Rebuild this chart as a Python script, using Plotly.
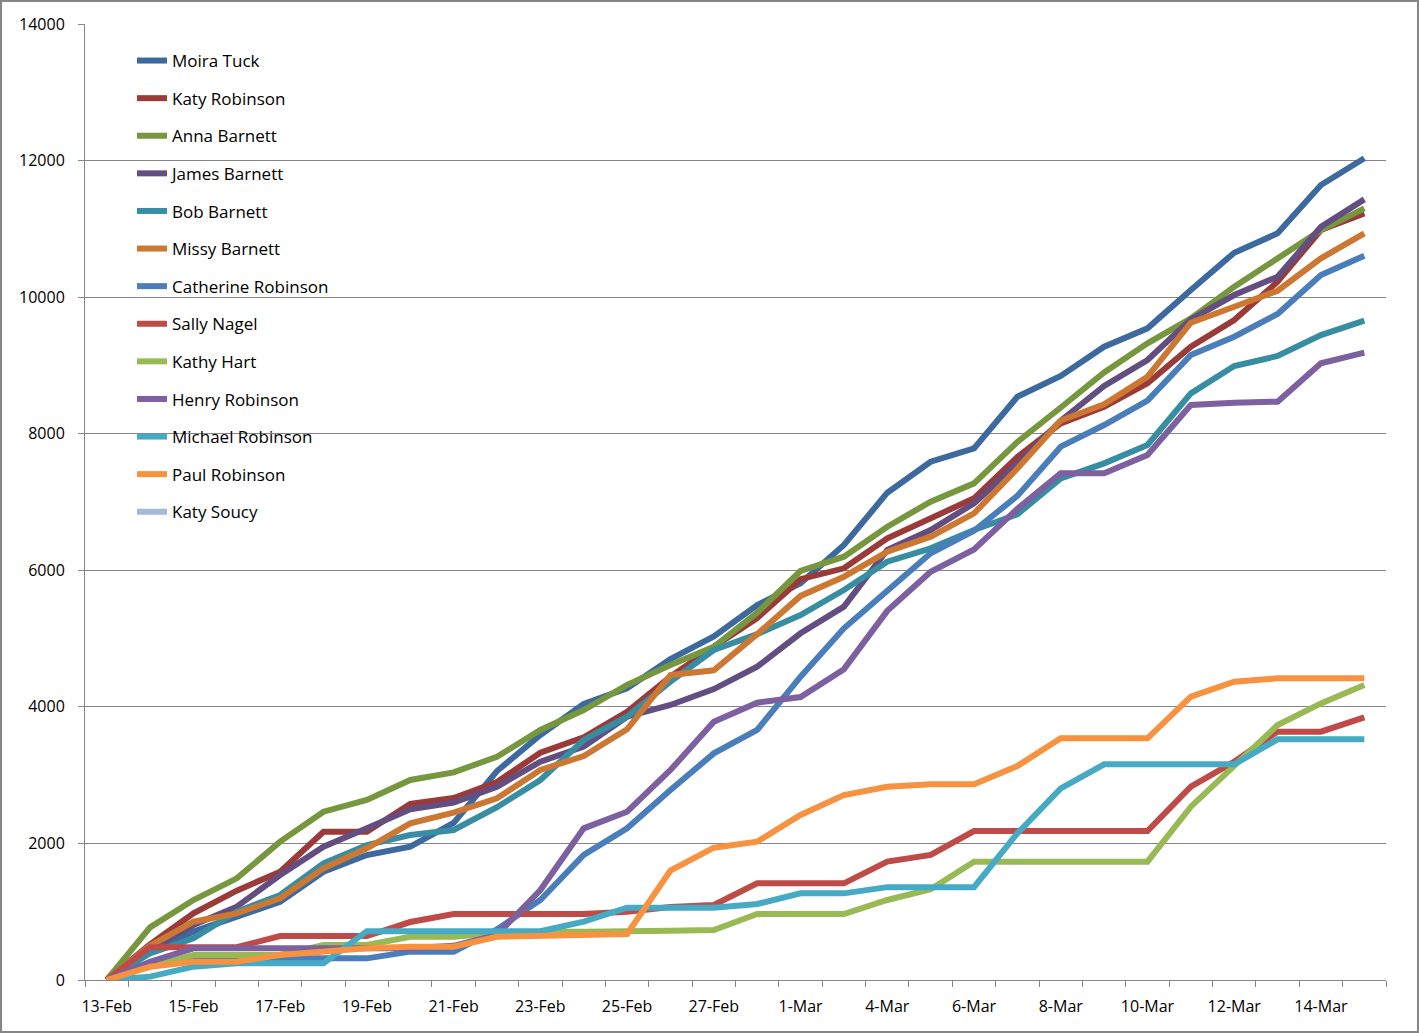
import plotly.graph_objects as go

dates = ["13-Feb", "14-Feb", "15-Feb", "16-Feb", "17-Feb", "18-Feb", "19-Feb", "20-Feb",
         "21-Feb", "22-Feb", "23-Feb", "24-Feb", "25-Feb", "26-Feb", "27-Feb", "28-Feb",
         "1-Mar", "3-Mar", "4-Mar", "5-Mar", "6-Mar", "7-Mar", "8-Mar", "9-Mar",
         "10-Mar", "11-Mar", "12-Mar", "13-Mar", "14-Mar", "15-Mar"]

moira_tuck = [0, 420, 708, 927, 1147, 1586, 1830, 1953, 2300, 3060, 3588, 4042, 4271, 4700, 5030,
              5491, 5809, 6370, 7136, 7590, 7786, 8542, 8845, 9274, 9543, 10104, 10651, 10934, 11642, 12033]
katy_robinson = [0, 520, 976, 1308, 1586, 2172, 2172, 2580, 2665, 2900, 3329, 3554, 3929, 4442, 4881,
                 5300, 5870, 6029, 6468, 6761, 7054, 7660, 8152, 8396, 8738, 9274, 9665, 10226, 10983, 11227]
anna_barnett = [0, 771, 1171, 1489, 2026, 2465, 2636, 2929, 3040, 3270, 3661, 3954, 4320, 4613, 4880,
                5380, 5990, 6199, 6638, 7005, 7273, 7880, 8384, 8896, 9323, 9689, 10153, 10568, 10983, 11300]
james_barnett = [0, 450, 805, 1074, 1538, 1953, 2221, 2500, 2600, 2830, 3197, 3417, 3856, 4027, 4260,
                 4588, 5077, 5467, 6297, 6590, 6981, 7560, 8190, 8700, 9079, 9675, 10031, 10299, 11031, 11432]
bob_barnett = [0, 391, 610, 1001, 1245, 1709, 1977, 2123, 2197, 2530, 2929, 3515, 3856, 4369, 4832,
               5065, 5345, 5711, 6126, 6321, 6590, 6820, 7346, 7566, 7835, 8591, 8991, 9138, 9445, 9655]
missy_barnett = [0, 500, 854, 976, 1196, 1636, 1928, 2294, 2450, 2660, 3075, 3280, 3671, 4466, 4535,
                 5065, 5625, 5906, 6272, 6492, 6834, 7490, 8193, 8430, 8835, 9626, 9860, 10094, 10568, 10934]
catherine_robinson = [0, 250, 300, 317, 317, 317, 317, 415, 415, 740, 1172, 1831, 2221, 2782, 3319,
                      3661, 4442, 5150, 5711, 6248, 6578, 7090, 7810, 8127, 8484, 9153, 9421, 9753, 10324, 10607]
sally_nagel = [0, 480, 480, 480, 644, 644, 644, 849, 966, 966, 966, 966, 1001, 1069, 1098,
               1416, 1416, 1416, 1733, 1831, 2182, 2182, 2182, 2182, 2182, 2831, 3197, 3637, 3637, 3846]
kathy_hart = [0, 195, 366, 366, 366, 513, 513, 634, 634, 683, 708, 708, 708, 722, 732,
              966, 966, 966, 1172, 1330, 1733, 1733, 1733, 1733, 1733, 2538, 3148, 3734, 4051, 4320]
henry_robinson = [0, 268, 464, 464, 464, 464, 464, 464, 500, 660, 1318, 2221, 2465, 3075, 3783,
                  4061, 4144, 4552, 5406, 5978, 6304, 6900, 7420, 7420, 7688, 8420, 8454, 8469, 9031, 9187]
michael_robinson = [0, 49, 195, 244, 244, 244, 715, 715, 715, 715, 715, 854, 1059, 1059, 1059,
                    1113, 1269, 1269, 1360, 1360, 1360, 2148, 2807, 3158, 3158, 3158, 3158, 3524, 3524, 3524]
paul_robinson = [0, 195, 268, 268, 366, 415, 464, 488, 488, 634, 643, 659, 674, 1601, 1938,
                 2026, 2416, 2709, 2831, 2865, 2865, 3134, 3539, 3539, 3539, 4149, 4369, 4418, 4418, 4418]
katy_soucy = [0] + [None] * 29

series_names = ["Moira Tuck", "Katy Robinson", "Anna Barnett", "James Barnett", "Bob Barnett",
                "Missy Barnett", "Catherine Robinson", "Sally Nagel", "Kathy Hart", "Henry Robinson",
                "Michael Robinson", "Paul Robinson", "Katy Soucy"]
series_values = [moira_tuck, katy_robinson, anna_barnett, james_barnett, bob_barnett, missy_barnett,
                 catherine_robinson, sally_nagel, kathy_hart, henry_robinson, michael_robinson,
                 paul_robinson, katy_soucy]
series_colors = ["#3C699E", "#9B3B39", "#77973F", "#624E80", "#378EA2", "#CD7832",
                 "#4A7EBB", "#BE4B48", "#98B954", "#7D60A0", "#46AAC5", "#F69240", "#A5B9D8"]

y_ticks = [0, 2000, 4000, 6000, 8000, 10000, 12000, 14000]
y_ticktext = [str(v) for v in y_ticks]
x_ticktext = [d if i % 2 == 0 else "" for i, d in enumerate(dates)]

FONT = "Open Sans"
GRID = "#868686"

fig = go.Figure()
for name, vals, col in zip(series_names, series_values, series_colors):
    fig.add_trace(go.Scatter(
        x=dates, y=vals, name=name, mode="lines",
        line=dict(color=col, width=6), legendgroup=name,
    ))

W, H = 1419, 1033
ml, mr, mt, mb = 85, 33, 24, 53
pw, ph = W - ml - mr, H - mt - mb

fig.update_layout(
    width=W, height=H,
    margin=dict(l=ml, r=mr, t=mt, b=mb, pad=0, autoexpand=False),
    paper_bgcolor="white", plot_bgcolor="white",
    font=dict(family=FONT, size=16, color="#000000"),
    showlegend=True,
    legend=dict(
        x=(132 - ml) / pw, y=(ph - 19) / ph, xanchor="left", yanchor="top",
        bgcolor="rgba(0,0,0,0)", borderwidth=0,
        font=dict(family=FONT, size=17, color="#000000"),
        traceorder="grouped", tracegroupgap=12.5,
    ),
    xaxis=dict(
        type="category", categoryorder="array", categoryarray=dates,
        range=[-0.5, len(dates) - 0.5], automargin=False,
        tickmode="array", tickvals=dates, ticktext=x_ticktext, tickangle=0,
        tickson="boundaries", ticks="outside", ticklen=6, tickcolor=GRID,
        showline=True, linecolor=GRID, linewidth=1,
        showgrid=False, zeroline=False,
        tickfont=dict(family=FONT, size=16, color="#000000"),
        ticklabelstandoff=12,
    ),
    yaxis=dict(
        range=[0, 14000], tickmode="array", tickvals=y_ticks, ticktext=y_ticktext,
        automargin=False,
        ticks="outside", ticklen=6, tickcolor=GRID,
        showline=True, linecolor=GRID, linewidth=1,
        showgrid=True, gridcolor=GRID, gridwidth=1, zeroline=False,
        tickfont=dict(family=FONT, size=16, color="#000000"),
        ticklabelstandoff=10,
    ),
    shapes=[dict(
        type="rect", xref="paper", yref="paper",
        x0=(-ml + 1) / pw, x1=1 + (mr - 1) / pw,
        y0=(-mb + 1) / ph, y1=1 + (mt - 1) / ph,
        line=dict(color=GRID, width=2), fillcolor="rgba(0,0,0,0)", layer="below",
    )],
)

fig.write_html("out.html", config={"displayModeBar": False},
               post_script="document.body.style.margin='0';document.body.style.overflow='hidden';")
